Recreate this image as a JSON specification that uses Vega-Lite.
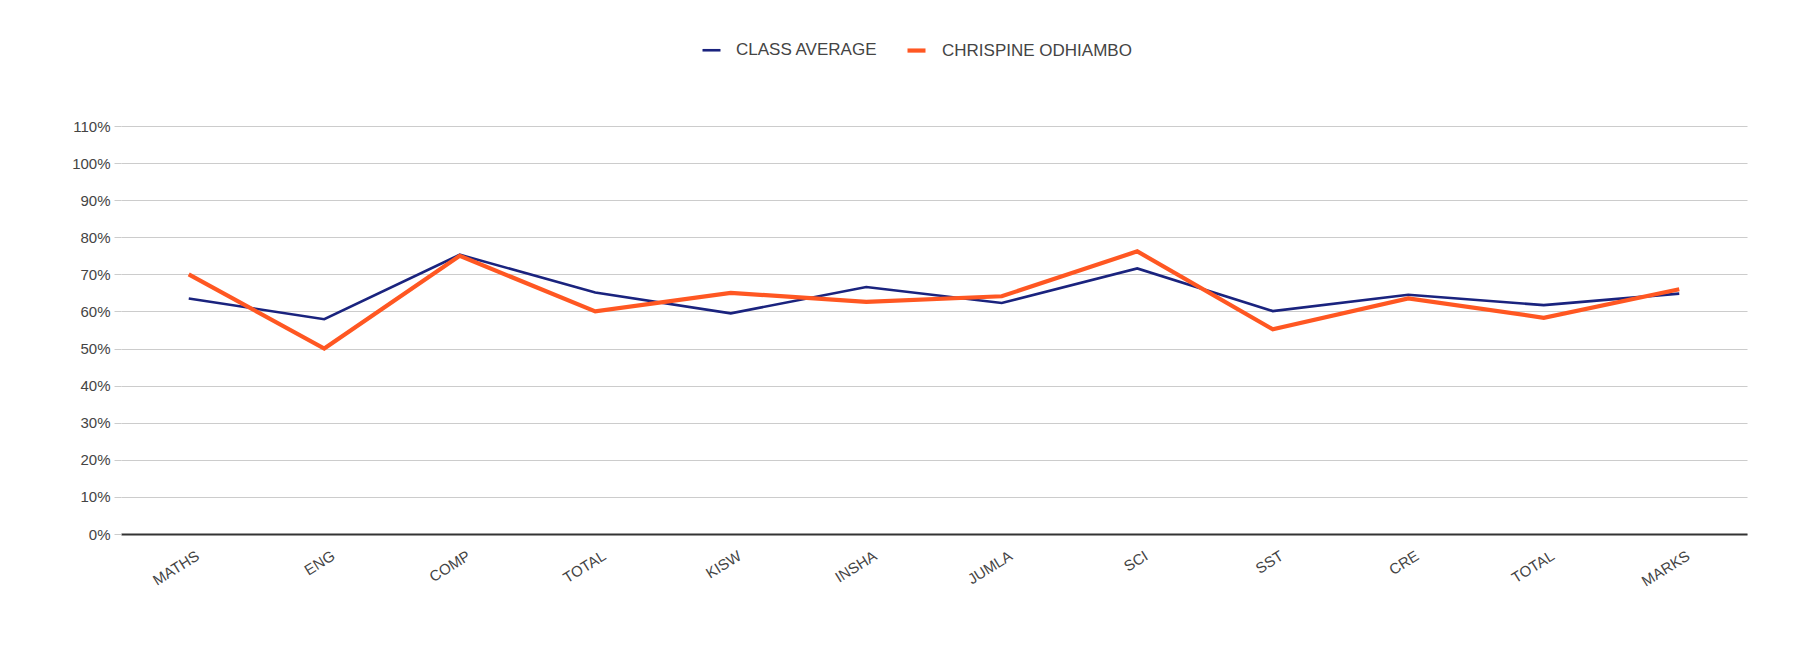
{
  "$schema": "https://vega.github.io/schema/vega-lite/v6.json",
  "width": 1626,
  "height": 408,
  "autosize": {"type": "none"},
  "padding": {"left": 121, "top": 126, "right": 55, "bottom": 130},
  "background": "white",
  "config": {
    "view": {"stroke": null},
    "font": "Liberation Sans"
  },
  "data": {
    "values": [
      {"subject": "MATHS", "series": "CLASS AVERAGE", "value": 0.635},
      {"subject": "ENG", "series": "CLASS AVERAGE", "value": 0.579},
      {"subject": "COMP", "series": "CLASS AVERAGE", "value": 0.753},
      {"subject": "TOTAL", "series": "CLASS AVERAGE", "value": 0.651},
      {"subject": "KISW", "series": "CLASS AVERAGE", "value": 0.595},
      {"subject": "INSHA", "series": "CLASS AVERAGE", "value": 0.666},
      {"subject": "JUMLA", "series": "CLASS AVERAGE", "value": 0.623},
      {"subject": "SCI", "series": "CLASS AVERAGE", "value": 0.716},
      {"subject": "SST", "series": "CLASS AVERAGE", "value": 0.601},
      {"subject": "CRE", "series": "CLASS AVERAGE", "value": 0.645},
      {"subject": "TOTAL ", "series": "CLASS AVERAGE", "value": 0.617},
      {"subject": "MARKS", "series": "CLASS AVERAGE", "value": 0.648},
      {"subject": "MATHS", "series": "CHRISPINE ODHIAMBO", "value": 0.70},
      {"subject": "ENG", "series": "CHRISPINE ODHIAMBO", "value": 0.50},
      {"subject": "COMP", "series": "CHRISPINE ODHIAMBO", "value": 0.75},
      {"subject": "TOTAL", "series": "CHRISPINE ODHIAMBO", "value": 0.60},
      {"subject": "KISW", "series": "CHRISPINE ODHIAMBO", "value": 0.65},
      {"subject": "INSHA", "series": "CHRISPINE ODHIAMBO", "value": 0.626},
      {"subject": "JUMLA", "series": "CHRISPINE ODHIAMBO", "value": 0.641},
      {"subject": "SCI", "series": "CHRISPINE ODHIAMBO", "value": 0.762},
      {"subject": "SST", "series": "CHRISPINE ODHIAMBO", "value": 0.552},
      {"subject": "CRE", "series": "CHRISPINE ODHIAMBO", "value": 0.635},
      {"subject": "TOTAL ", "series": "CHRISPINE ODHIAMBO", "value": 0.583},
      {"subject": "MARKS", "series": "CHRISPINE ODHIAMBO", "value": 0.66}
    ]
  },
  "mark": {"type": "line", "strokeJoin": "miter"},
  "encoding": {
    "x": {
      "field": "subject",
      "type": "nominal",
      "sort": null,
      "scale": {"paddingInner": 0, "paddingOuter": 0.5},
      "axis": {
        "title": null,
        "labelAngle": -32,
        "labelExpr": "trim(datum.label)",
        "labelFontSize": 15,
        "labelColor": "#444444",
        "labelPadding": 14,
        "labelOffset": 5,
        "ticks": false,
        "grid": false,
        "domainColor": "#333333",
        "domainWidth": 2
      }
    },
    "y": {
      "field": "value",
      "type": "quantitative",
      "scale": {"domain": [0, 1.1], "nice": false},
      "axis": {
        "title": null,
        "format": ".0%",
        "values": [0, 0.1, 0.2, 0.3, 0.4, 0.5, 0.6, 0.7, 0.8, 0.9, 1.0, 1.1],
        "labelFontSize": 15,
        "labelColor": "#444444",
        "labelPadding": 4,
        "domain": false,
        "tickColor": "#cccccc",
        "tickSize": 7,
        "gridColor": "#cccccc",
        "gridWidth": 1.2
      }
    },
    "color": {
      "field": "series",
      "type": "nominal",
      "sort": ["CLASS AVERAGE", "CHRISPINE ODHIAMBO"],
      "scale": {"domain": ["CLASS AVERAGE", "CHRISPINE ODHIAMBO"], "range": ["#1a237e", "#ff5722"]},
      "legend": {
        "title": null,
        "orient": "none",
        "direction": "horizontal",
        "legendX": 580,
        "legendY": -87,
        "labelFontSize": 17,
        "labelLimit": 400,
        "labelColor": "#444444",
        "symbolType": "stroke",
        "symbolSize": 324,
        "symbolStrokeWidth": 6,
        "labelOffset": 14,
        "columnPadding": 21
      }
    },
    "strokeWidth": {
      "field": "series",
      "type": "nominal",
      "scale": {"domain": ["CLASS AVERAGE", "CHRISPINE ODHIAMBO"], "range": [2.6, 4.2]},
      "legend": null
    }
  }
}
